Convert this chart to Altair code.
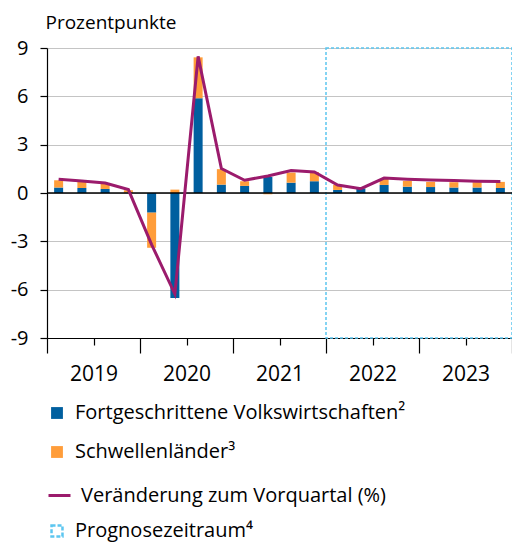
import altair as alt
import pandas as pd

# ---- data ----
quarters = ["2019Q1", "2019Q2", "2019Q3", "2019Q4",
            "2020Q1", "2020Q2", "2020Q3", "2020Q4",
            "2021Q1", "2021Q2", "2021Q3", "2021Q4",
            "2022Q1", "2022Q2", "2022Q3", "2022Q4",
            "2023Q1", "2023Q2", "2023Q3", "2023Q4"]
advanced = [0.34, 0.31, 0.25, 0.02, -1.22, -6.52, 5.88, 0.52, 0.44, 1.00,
            0.64, 0.73, 0.19, 0.29, 0.50, 0.39, 0.37, 0.34, 0.34, 0.31]
emerging = [0.45, 0.38, 0.31, 0.15, -2.18, 0.21, 2.54, 0.96, 0.29, -0.08,
            0.63, 0.57, 0.31, 0.02, 0.37, 0.36, 0.32, 0.33, 0.33, 0.38]
change = [0.85, 0.75, 0.62, 0.21, -3.20, -6.27, 8.48, 1.52, 0.79, 1.06,
          1.39, 1.31, 0.50, 0.27, 0.93, 0.86, 0.81, 0.77, 0.73, 0.71]
years = ["2019", "2020", "2021", "2022", "2023"]
forecast_start = "2022Q1"
y_ticks = [-9, -6, -3, 0, 3, 6, 9]

lab_adv = "Fortgeschrittene Volkswirtschaften²"
lab_em = "Schwellenländer³"
lab_line = "Veränderung zum Vorquartal (%)"
lab_fc = "Prognosezeitraum⁴"
y_title = "Prozentpunkte"

# ---- styling ----
BLUE = "#005f9f"
ORANGE = "#ff9d3a"
PURPLE = "#9b1b6c"
CYAN = "#5cc6f0"
FONT = "Open Sans"
W = 465

n = len(quarters)
rows = []
for i, q in enumerate(quarters):
    rows.append({"x": i + 0.5, "series": lab_adv, "order": 0, "v": advanced[i]})
    rows.append({"x": i + 0.5, "series": lab_em, "order": 1, "v": emerging[i]})
bars_df = pd.DataFrame(rows)
line_df = pd.DataFrame({"x": [i + 0.5 for i in range(n)], "v": change,
                        "linelabel": [lab_line] * n})
fc_df = pd.DataFrame({"x": [quarters.index(forecast_start)], "x2": [n],
                      "y": [y_ticks[0]], "y2": [y_ticks[-1]], "fclabel": [lab_fc]})
zero_df = pd.DataFrame({"y": [0]})

xscale = alt.Scale(domain=[0, n], nice=False, zero=False, padding=0)
yscale = alt.Scale(domain=[y_ticks[0], y_ticks[-1]], nice=False, padding=0)

year_arr = "[" + ",".join("'" + y + "'" for y in years) + "]"
label_expr = ("datum.value % 4 === 0 && datum.value < " + str(n) + " ? "
              + year_arr + "[datum.value / 4] : ''")

x_axis = alt.Axis(values=list(range(n + 1)), grid=False, title=None,
                  tickSize={"condition": {"test": "datum.value % 4 === 0", "value": 15},
                            "value": 7},
                  labelExpr=label_expr, labelOffset=2 * W / n, labelPadding=10,
                  labelFlush=False, labelOverlap=False, labelFont=FONT,
                  labelFontSize=21, labelColor="black", labelBaseline="top")
y_axis = alt.Axis(values=y_ticks, grid=True, tickSize=7,
                  labelPadding=12, labelFont=FONT, labelFontSize=20,
                  labelExpr="replace(datum.label, '\u2212', '-')",
                  labelColor="black", gridColor="#c4c4c4", gridWidth=1.2,
                  title=y_title, titleAngle=0, titleX=-2, titleY=-20,
                  titleAlign="left", titleBaseline="alphabetic", titleFont=FONT,
                  titleFontSize=19, titleFontWeight="normal", titleColor="black")

LEG = dict(title=None, orient="none", legendX=0, labelFont=FONT, labelFontSize=20,
           labelColor="black", padding=0, labelLimit=500)

bars = alt.Chart(bars_df).mark_bar(size=9).encode(
    x=alt.X("x:Q", scale=xscale, axis=x_axis),
    y=alt.Y("v:Q", scale=yscale, axis=y_axis, stack="zero"),
    order=alt.Order("order:Q"),
    fill=alt.Fill("series:N",
                  scale=alt.Scale(domain=[lab_adv, lab_em], range=[BLUE, ORANGE]),
                  legend=alt.Legend(legendY=355, symbolType="square", symbolSize=140,
                                    symbolStrokeWidth=0, rowPadding=19, labelOffset=8,
                                    **LEG)),
)

zero = alt.Chart(zero_df).mark_rule(color="black", strokeWidth=1.5).encode(
    y=alt.Y("y:Q", scale=yscale))

line = alt.Chart(line_df).mark_line(strokeWidth=3).encode(
    x=alt.X("x:Q", scale=xscale),
    y=alt.Y("v:Q", scale=yscale),
    color=alt.Color("linelabel:N",
                    scale=alt.Scale(domain=[lab_line], range=[PURPLE]),
                    legend=alt.Legend(legendY=435, symbolType="stroke", symbolSize=484,
                                      symbolStrokeWidth=3, labelOffset=9, **LEG)),
)

fc = alt.Chart(fc_df).mark_rect(fill=None, strokeWidth=1.5, strokeDash=[3, 2]).encode(
    x=alt.X("x:Q", scale=xscale),
    x2="x2:Q",
    y=alt.Y("y:Q", scale=yscale),
    y2="y2:Q",
    stroke=alt.Stroke("fclabel:N",
                      scale=alt.Scale(domain=[lab_fc], range=[CYAN]),
                      legend=alt.Legend(legendY=473, symbolType="square",
                                        symbolSize=120, symbolStrokeColor="#1aa3de",
                                        symbolFillColor="white", symbolDash=[4, 2],
                                        symbolStrokeWidth=2.5, labelOffset=8, **LEG)),
)

chart = alt.layer(fc, bars, zero, line).resolve_scale(
    fill="independent", stroke="independent", color="independent"
).properties(
    width=W, height=290,
    autosize=alt.AutoSizeParams(type="none"),
    padding={"left": 39, "top": 40, "right": 0, "bottom": 205},
).configure_view(stroke=None).configure_axis(
    domainColor="black", tickColor="black", domainWidth=1.2, tickWidth=1.2
)

chart.save("out.html", embed_options={"renderer": "svg", "actions": False})
